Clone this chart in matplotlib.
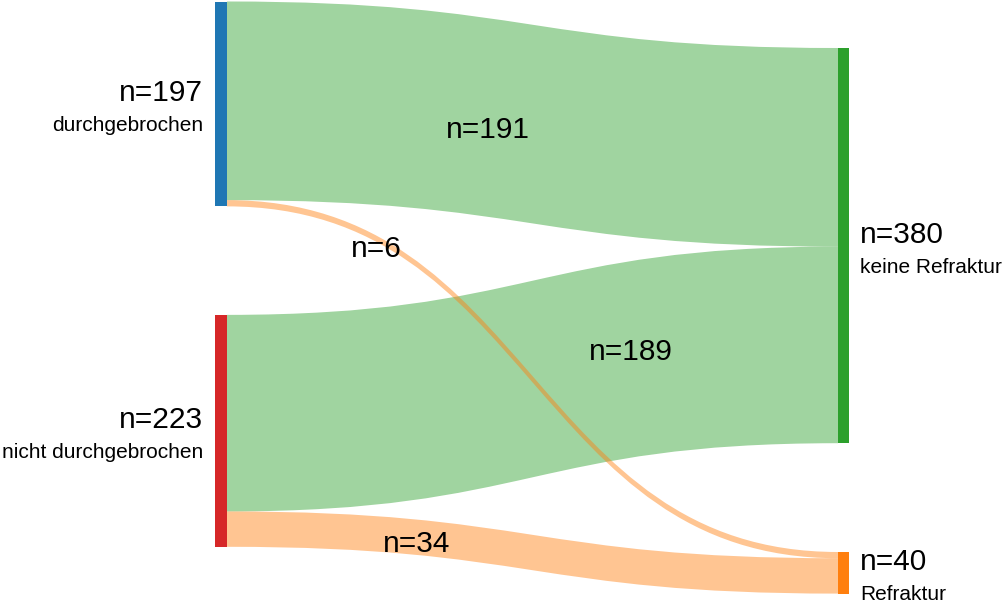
import matplotlib
matplotlib.use("Agg")
import matplotlib.pyplot as plt
from matplotlib.path import Path
from matplotlib.patches import PathPatch, Rectangle

plt.rcParams["font.family"] = ["Liberation Sans", "DejaVu Sans"]

# nodes (left column, right column)
left_names = ["durchgebrochen", "nicht durchgebrochen"]
left_counts = [197, 223]
left_colors = ["#1f77b4", "#d62728"]
right_names = ["keine Refraktur", "Refraktur"]
right_counts = [380, 40]
right_colors = ["#2ca02c", "#ff7f0e"]

# flows: (left index, right index, count)
flow_src = [0, 0, 1, 1]
flow_dst = [0, 1, 0, 1]
flow_val = [191, 6, 189, 34]
flow_label_xy = [(488, 138), (376, 257), (631, 360), (417, 552)]

# layout (pixels)
S = 1.04
LX0, LX1 = 215, 227
RX0, RX1 = 838, 849
LEFT_TOP, LEFT_GAP = 1.5, 108.5
RIGHT_TOP, RIGHT_GAP = 48, 108.8
ALPHA = 0.45
BIG, SMALL = 21.5, 15


def stack(counts, top, gap):
    tops, y = [], top
    for c in counts:
        tops.append(y)
        y += c * S + gap
    return tops


left_tops = stack(left_counts, LEFT_TOP, LEFT_GAP)
right_tops = stack(right_counts, RIGHT_TOP, RIGHT_GAP)

fig = plt.figure(figsize=(10.04, 6.02), dpi=100)
ax = fig.add_axes([0, 0, 1, 1])
ax.set_xlim(0, 1004)
ax.set_ylim(602, 0)
ax.axis("off")

# flows: stacked by order at the source, by source at the target
l_used = [0.0] * len(left_counts)
r_used = [0.0] * len(right_counts)
offs = {}
for i in range(len(flow_val)):
    s, v = flow_src[i], flow_val[i]
    offs[i] = [left_tops[s] + l_used[s], None]
    l_used[s] += v * S
for i in sorted(range(len(flow_val)), key=lambda i: (flow_dst[i], flow_src[i])):
    d, v = flow_dst[i], flow_val[i]
    offs[i][1] = right_tops[d] + r_used[d]
    r_used[d] += v * S

order = sorted(range(len(flow_val)), key=lambda i: (flow_dst[i] != 0, i))
xm = (LX1 + RX0) / 2
for i in order:
    v = flow_val[i]
    y0, y1 = offs[i]
    h = v * S
    verts = [(LX1, y0), (xm, y0), (xm, y1), (RX0, y1),
             (RX0, y1 + h),
             (xm, y1 + h), (xm, y0 + h), (LX1, y0 + h),
             (LX1, y0)]
    codes = [Path.MOVETO, Path.CURVE4, Path.CURVE4, Path.CURVE4,
             Path.LINETO,
             Path.CURVE4, Path.CURVE4, Path.CURVE4,
             Path.CLOSEPOLY]
    ax.add_patch(PathPatch(Path(verts, codes), facecolor=right_colors[flow_dst[i]],
                           alpha=ALPHA, lw=0, zorder=1))
    lx, ly = flow_label_xy[i]
    ax.text(lx, ly, f"n={v}", fontsize=BIG, ha="center", va="baseline", zorder=3)

# nodes + labels
for top, c, col, name in zip(left_tops, left_counts, left_colors, left_names):
    ax.add_patch(Rectangle((LX0, top), LX1 - LX0, c * S, color=col, lw=0, zorder=2))
    mid = top + c * S / 2
    ax.text(203, mid - 3, f"n={c}", fontsize=BIG, ha="right", va="baseline")
    ax.text(203, mid + 27, name, fontsize=SMALL, ha="right", va="baseline")

for top, c, col, name in zip(right_tops, right_counts, right_colors, right_names):
    ax.add_patch(Rectangle((RX0, top), RX1 - RX0, c * S, color=col, lw=0, zorder=2))
    mid = top + c * S / 2
    ax.text(860, mid - 3, f"n={c}", fontsize=BIG, ha="left", va="baseline")
    ax.text(860, mid + 27, name, fontsize=SMALL, ha="left", va="baseline")

fig.savefig("out.png", dpi=100, facecolor="white")
